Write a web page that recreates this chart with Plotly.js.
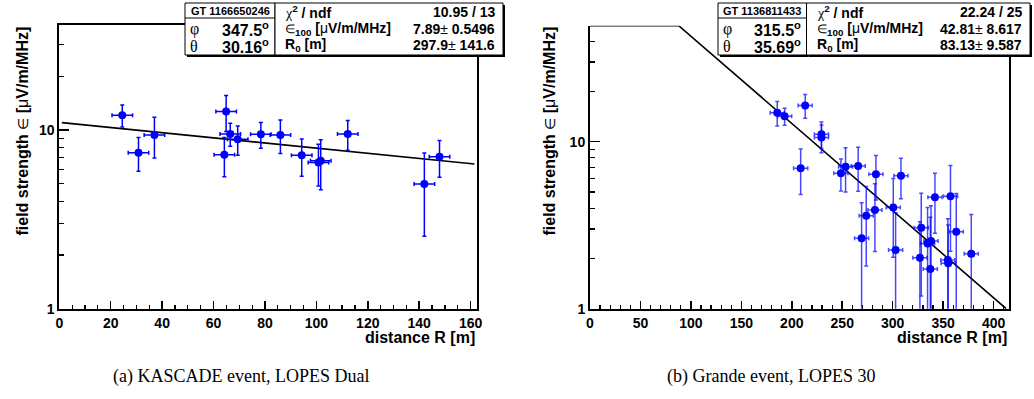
<!DOCTYPE html>
<html>
<head>
<meta charset="utf-8">
<script src="https://cdn.plot.ly/plotly-3.0.1.min.js"></script>
<style>
html,body{margin:0;padding:0;background:#fff;}
#chart{width:1034px;height:399px;}
</style>
</head>
<body>
<div id="chart"></div>
<script>
// ---------- data ----------
// (a) KASCADE event, LOPES Dual
const leftR     = [24.5, 30.8, 37.0, 64.9, 64.2, 66.5, 69.4, 78.4, 86.0, 94.3, 100.8, 101.7, 112.2, 142.0, 147.9];
const leftE     = [12.1, 7.47, 9.38, 12.7, 7.28, 9.5, 8.87, 9.46, 9.38, 7.22, 6.59, 6.73, 9.5, 4.99, 7.09];
const leftEErr  = [1.7, 1.6, 2.4, 2.9, 1.8, 1.4, 1.65, 1.55, 2.0, 1.7, 1.73, 2.1, 1.8, 2.45, 1.65];
const leftRErr  = [4, 4, 4, 4, 4, 4, 4, 4, 4, 4, 4, 4, 4, 4, 4];
const leftFitR  = [1, 161.5];
const leftFitE  = [11.0, 6.45];

// (b) Grande event, LOPES 30
const rightR    = [185.6, 192.9, 213.3, 229.4, 229.4, 208.8, 248.7, 253.3, 265.8, 283.4, 308.2, 282.4, 273.8, 269.2,
                   300.6, 302.9, 328.3, 327.0, 334.6, 338.0, 337.3, 341.9, 357.3, 354.7, 355.0, 363.0, 377.9];
const rightE    = [14.9, 14.2, 16.5, 11.1, 10.6, 6.93, 6.47, 7.09, 7.15, 6.38, 6.26, 3.90, 3.60, 2.64,
                   4.03, 2.25, 3.05, 2.02, 2.46, 2.54, 1.73, 4.65, 4.71, 1.96, 1.87, 2.89, 2.13];
const rightEErr = [2.5, 1.65, 2.7, 2.0, 2.0, 2.1, 1.4, 2.1, 2.1, 1.9, 1.7, 1.7, 1.8, 1.67,
                   2.0, 1.5, 1.86, 1.3, 1.57, 1.6, 1.8, 1.82, 2.5, 1.5, 1.3, 2.0, 1.54];
const rightRErr = [7, 7, 7, 7, 7, 7, 7, 7, 7, 7, 7, 7, 7, 7, 7, 7, 7, 7, 7, 7, 7, 7, 7, 7, 7, 7, 7];
const rightFitR = [0, 87.9, 412.5];
const rightFitE = [49.5, 49.5, 1.0];

// tick labels / texts
const yMajor = [1, 10];
const yMajorText = ['1', '10'];
const yMinorLeft = [2, 3, 4, 5, 6, 7, 8, 9, 20, 30];
const yMinorRight = [2, 3, 4, 5, 6, 7, 8, 9, 20, 30, 40];
const xTitle = 'distance R [m]';
const yTitle = 'field strength <span style="font-weight:normal;font-size:14px">∈</span> [<span style="font-weight:normal">μ</span>V/m/MHz]';
const captions = ['(a) KASCADE event, LOPES Dual', '(b) Grande event, LOPES 30'];
const statsLeft = {gt: 'GT 1166650246', phi: '347.5', theta: '30.16', chi: '10.95 / 13', eps: '7.89', epsErr: '0.5496', r0: '297.9', r0Err: '141.6'};
const statsRight = {gt: 'GT 1136811433', phi: '315.5', theta: '35.69', chi: '22.24 / 25', eps: '42.81', epsErr: '8.617', r0: '83.13', r0Err: '9.587'};

// ---------- layout helpers ----------
const W = 1034, H = 399;
const px = v => v / W;
const py = v => 1 - v / H;
const SANS = 'Liberation Sans, Arial, Helvetica, sans-serif';
const SERIF = 'Liberation Serif, Times New Roman, serif';

function xAxis(domain, range, dtick, minorDtick, mirror, anchor) {
  return {
    domain: domain, range: range, anchor: anchor,
    showline: true, linecolor: '#000', linewidth: 2, mirror: mirror,
    ticks: 'inside', ticklen: 8, tickwidth: 1.5, tickcolor: '#000',
    tick0: 0, dtick: dtick,
    minor: {tick0: 0, dtick: minorDtick, ticks: 'inside', ticklen: 4, tickwidth: 1.2, tickcolor: '#000', showgrid: false},
    showgrid: false, zeroline: false, fixedrange: true,
    tickfont: {family: SANS, size: 14, weight: 'bold', color: '#000'}
  };
}
function yAxis(domain, top, minorVals, anchor) {
  return {
    domain: domain, type: 'log', range: [0, Math.log10(top)], anchor: anchor,
    showline: true, linecolor: '#000', linewidth: 2, mirror: true,
    tickmode: 'array', tickvals: yMajor, ticktext: yMajorText,
    ticks: 'inside', ticklen: 10, tickwidth: 1.5, tickcolor: '#000',
    minor: {tickmode: 'array', tickvals: minorVals, ticks: 'inside', ticklen: 5, tickwidth: 1.2, tickcolor: '#000', showgrid: false},
    showgrid: false, zeroline: false, fixedrange: true,
    tickfont: {family: SANS, size: 14, weight: 'bold', color: '#000'}
  };
}

function pointsTrace(x, y, ex, ey, xa, ya, barColor) {
  return {
    type: 'scatter', mode: 'markers', x: x, y: y, xaxis: xa, yaxis: ya,
    marker: {color: '#0000ff', size: 8, line: {width: 0}},
    error_x: {type: 'data', array: ex, visible: true, color: barColor, thickness: 1.5, width: 2},
    error_y: {type: 'data', array: ey, visible: true, color: barColor, thickness: 1.5, width: 2},
    hoverinfo: 'skip', cliponaxis: true
  };
}
function fitTrace(x, y, xa, ya) {
  return {
    type: 'scatter', mode: 'lines', x: x, y: y, xaxis: xa, yaxis: ya,
    line: {color: '#000', width: 1.6}, hoverinfo: 'skip', cliponaxis: false
  };
}

const data = [
  fitTrace(leftFitR, leftFitE, 'x', 'y'),
  pointsTrace(leftR, leftE, leftRErr, leftEErr, 'x', 'y', '#0000ff'),
  fitTrace(rightFitR, rightFitE, 'x2', 'y2'),
  pointsTrace(rightR, rightE, rightRErr, rightEErr, 'x2', 'y2', 'rgba(0,0,255,0.72)')
];

// ---------- stat boxes ----------
const shapes = [];
const annotations = [];
function rect(x0, y0, x1, y1, fill, lineW) {
  shapes.push({type: 'rect', xref: 'paper', yref: 'paper', x0: px(x0), x1: px(x1), y0: py(y1), y1: py(y0),
    fillcolor: fill, line: {color: '#000', width: lineW}, layer: 'above'});
}
function hline(x0, x1, y) {
  shapes.push({type: 'line', xref: 'paper', yref: 'paper', x0: px(x0), x1: px(x1), y0: py(y), y1: py(y),
    line: {color: '#000', width: 1}, layer: 'above'});
}
function txt(text, x, y, xanchor, size, opts) {
  opts = opts || {};
  annotations.push({text: text, xref: 'paper', yref: 'paper', x: px(x), y: py(y), xanchor: xanchor, yanchor: 'middle',
    showarrow: false, textangle: opts.angle || 0,
    font: {family: opts.family || SANS, size: size, color: '#000', weight: opts.weight || 'bold'}});
}
function statBox(b1x0, sepX, b2x1, s) {
  const top = 3, bot = 55;
  rect(b1x0 + 2, top + 2, sepX + 2, bot + 2, '#000', 0);
  rect(b1x0, top, sepX, bot, '#fff', 1);
  rect(sepX + 2, top + 2, b2x1 + 2, bot + 2, '#000', 0);
  rect(sepX, top, b2x1, bot, '#fff', 1);
  hline(b1x0, sepX, 18);
  txt(s.gt, (b1x0 + sepX) / 2, 11, 'center', 11);
  txt('φ', b1x0 + 3, 29, 'left', 16, {family: SERIF, weight: 'normal'});
  txt(s.phi + '<sup>o</sup>', sepX - 4, 29, 'right', 16);
  txt('θ', b1x0 + 3, 46, 'left', 16, {family: SERIF, weight: 'normal'});
  txt(s.theta + '<sup>o</sup>', sepX - 4, 46, 'right', 16);
  const lx = sepX + 8, rx = b2x1 - 6;
  txt('<span style="font-family:Liberation Serif;font-weight:normal">χ</span><sup>2</sup> / ndf', lx, 12, 'left', 14);
  txt(s.chi, rx, 12, 'right', 14);
  txt('<span style="font-weight:normal;font-size:12px">∈</span><sub>100</sub> [<span style="font-weight:normal">μ</span>V/m/MHz]', lx, 29, 'left', 14);
  txt(s.eps + '<span style="font-weight:normal">±</span> ' + s.epsErr, rx, 29, 'right', 14);
  txt('R<sub>0</sub> [m]', lx, 45, 'left', 14);
  txt(s.r0 + '<span style="font-weight:normal">±</span> ' + s.r0Err, rx, 45, 'right', 14);
}
statBox(185, 275, 503, statsLeft);
statBox(718, 806.5, 1030, statsRight);

// axis titles
txt(xTitle, 477, 337, 'right', 16);
txt(xTitle, 1008.5, 337, 'right', 16);
annotations.push({text: yTitle, xref: 'paper', yref: 'paper', x: px(22), y: py(25), xanchor: 'center', yanchor: 'top',
  textangle: -90, showarrow: false, font: {family: SANS, size: 16, weight: 'bold', color: '#000'}});
annotations.push({text: yTitle, xref: 'paper', yref: 'paper', x: px(549), y: py(25), xanchor: 'center', yanchor: 'top',
  textangle: -90, showarrow: false, font: {family: SANS, size: 16, weight: 'bold', color: '#000'}});

// captions
txt(captions[0], 241, 376, 'center', 18, {family: SERIF, weight: 'normal'});
txt(captions[1], 771, 376, 'center', 18, {family: SERIF, weight: 'normal'});

const layout = {
  width: W, height: H,
  margin: {l: 0, r: 0, t: 0, b: 0, pad: 0},
  paper_bgcolor: '#fff', plot_bgcolor: 'rgba(0,0,0,0)',
  showlegend: false,
  xaxis: xAxis([px(59.3), px(477.3)], [0, 162.6], 20, 5, true, 'y'),
  yaxis: yAxis([py(308.7), py(25)], 38.7, yMinorLeft, 'x'),
  xaxis2: xAxis([px(590), px(1008.7)], [0, 415], 50, 10, false, 'y2'),
  yaxis2: yAxis([py(308.7), py(25.7)], 49.5, yMinorRight, 'x2'),
  shapes: shapes,
  annotations: annotations
};

Plotly.newPlot('chart', data, layout, {staticPlot: true, displayModeBar: false});
</script>
</body>
</html>
